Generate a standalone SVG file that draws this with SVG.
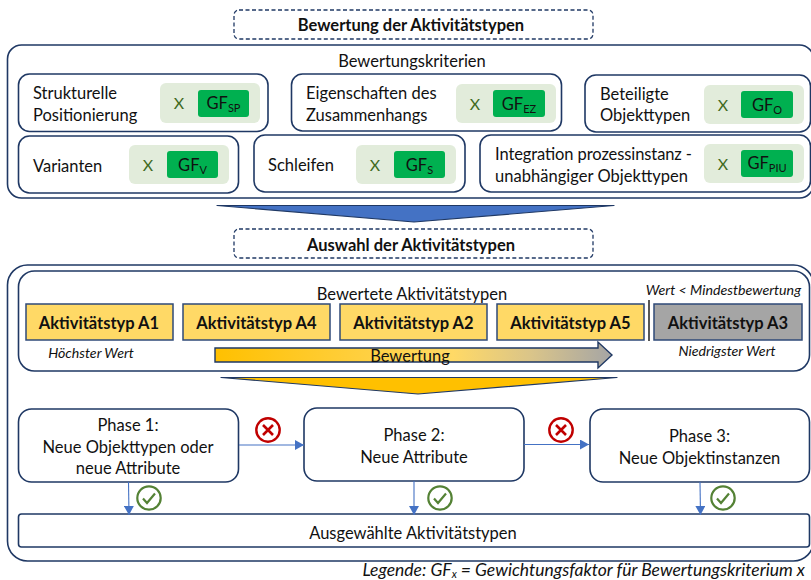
<svg xmlns="http://www.w3.org/2000/svg" width="811" height="580" viewBox="0 0 811 580">
<defs>
<linearGradient id="gr" x1="0" y1="0" x2="1" y2="0"><stop offset="0" stop-color="#ffc000"/><stop offset="0.6" stop-color="#ffd966"/><stop offset="0.8" stop-color="#d9c48a"/><stop offset="1" stop-color="#a5a5a5"/></linearGradient>
<marker id="ah" markerUnits="userSpaceOnUse" markerWidth="10" markerHeight="10" refX="9" refY="5" orient="auto"><path d="M0 0L9 5L0 10Z" fill="#4472c4"/></marker>
<g id="xicon"><circle r="11.7" fill="#fff" stroke="#c00000" stroke-width="2.4"/><path d="M-5-5L5 5M5-5L-5 5" stroke="#c00000" stroke-width="2.6" fill="none"/></g>
<g id="cicon"><circle r="11.7" fill="#fff" stroke="#548235" stroke-width="2.2"/><path d="M-6 0.5L-2 5L6-4.5" stroke="#548235" stroke-width="2.2" fill="none"/></g>
</defs>
<style>
text{font-family:Lato,"Liberation Sans",sans-serif;fill:#111;font-size:16.5px}
.b{font-weight:700}
.m{text-anchor:middle}
.i{font-style:italic;font-size:14.2px}
.box{fill:#fff;stroke:#1f3864;stroke-width:1.6}
.dash{fill:#fff;stroke:#1f3864;stroke-width:1.3;stroke-dasharray:4 2.5}
.soft{fill:#e2ecdb}
.gf{fill:#00b050}
.x{fill:#3f6a22;font-size:16px;text-anchor:middle}
.card{fill:#ffd966;stroke:#2f4a78;stroke-width:1.5}
.sub{font-size:11px}
.conn{stroke:#4472c4;stroke-width:1.1;fill:none;marker-end:url(#ah)}
</style>
<g id="title1"><rect class="dash" x="234" y="10" width="359" height="29" rx="5"/><text class="b m" x="411" y="30.500">Bewertung der Aktivitätstypen</text></g>
<g id="criteria"><rect class="box" x="7.5" y="45" width="806" height="153" rx="14"/><text class="m" x="412" y="66.500">Bewertungskriterien</text></g>
<g id="c1"><rect class="box" x="18.5" y="74" width="249.5" height="57.5" rx="11"/><text x="33" y="98.500">Strukturelle</text><text x="33" y="120.500">Positionierung</text><rect class="soft" x="160" y="83" width="100" height="40" rx="6"/><text class="x" x="179" y="109">X</text><rect class="gf" x="198" y="90" width="51" height="27" rx="3"/><text class="m" x="223.500" y="109">GF<tspan class="sub" dy="3">SP</tspan></text></g>
<g id="c2"><rect class="box" x="291.500" y="74" width="270" height="57" rx="11"/><text x="306" y="98.500">Eigenschaften des</text><text x="306" y="120.500">Zusammenhangs</text><rect class="soft" x="456" y="84" width="100" height="39" rx="6"/><text class="x" x="475" y="110">X</text><rect class="gf" x="493" y="90" width="52" height="27" rx="3"/><text class="m" x="519" y="110">GF<tspan class="sub" dy="3">EZ</tspan></text></g>
<g id="c3"><rect class="box" x="585" y="75" width="225.500" height="57" rx="11"/><text x="600" y="99.500">Beteiligte</text><text x="600" y="120.500">Objekttypen</text><rect class="soft" x="704" y="85" width="100" height="39" rx="6"/><text class="x" x="723" y="111">X</text><rect class="gf" x="741" y="91" width="52" height="27" rx="3"/><text class="m" x="767" y="111">GF<tspan class="sub" dy="3">O</tspan></text></g>
<g id="c4"><rect class="box" x="18.500" y="136" width="220" height="57" rx="11"/><text x="33" y="171.500">Varianten</text><rect class="soft" x="129" y="145" width="100" height="39" rx="6"/><text class="x" x="148" y="171">X</text><rect class="gf" x="167" y="151" width="51" height="27" rx="3"/><text class="m" x="192.500" y="171">GF<tspan class="sub" dy="3">V</tspan></text></g>
<g id="c5"><rect class="box" x="254" y="135" width="211" height="57" rx="11"/><text x="268" y="170.500">Schleifen</text><rect class="soft" x="356" y="145" width="100" height="39" rx="6"/><text class="x" x="375" y="171">X</text><rect class="gf" x="394" y="151" width="51" height="27" rx="3"/><text class="m" x="419.500" y="171">GF<tspan class="sub" dy="3">S</tspan></text></g>
<g id="c6"><rect class="box" x="480" y="135" width="330.500" height="57" rx="11"/><text x="495" y="159.500" textLength="197">Integration prozessinstanz -</text><text x="495" y="181.500" textLength="193">unabhängiger Objekttypen</text><rect class="soft" x="704" y="144" width="100" height="39" rx="6"/><text class="x" x="723" y="170">X</text><rect class="gf" x="741" y="150" width="52" height="27" rx="3"/><text class="m" x="767" y="169">GF<tspan class="sub" dy="3">PIU</tspan></text></g>
<g id="arrow-blue"><path d="M217 205.500H614L414 222Z" fill="#4472c4" stroke="#1f3864" stroke-width="1.2" stroke-linejoin="round"/></g>
<g id="title2"><rect class="dash" x="234" y="229" width="359" height="29" rx="5"/><text class="b m" x="411" y="250.500">Auswahl der Aktivitätstypen</text></g>
<g id="selection"><rect class="box" x="7.500" y="265" width="806" height="296" rx="20"/></g>
<g id="rated"><rect class="box" x="18.500" y="271" width="791" height="100" rx="16"/><text class="m" x="412" y="299.500">Bewertete Aktivitätstypen</text>
<text class="i" x="801" y="295" text-anchor="end">Wert &lt; Mindestbewertung</text>
<path d="M649 300V341" stroke="#111" stroke-width="1.4"/>
<text class="i m" x="91" y="358">Höchster Wert</text><text class="i m" x="727" y="356">Niedrigster Wert</text></g>
<g id="a1"><rect class="card" x="26" y="304" width="147" height="36"/><text class="b m" x="99" y="328.500">Aktivitätstyp  A1</text></g>
<g id="a4"><rect class="card" x="183" y="304" width="147" height="36"/><text class="b m" x="256.500" y="328.500">Aktivitätstyp  A4</text></g>
<g id="a2"><rect class="card" x="340" y="304" width="147" height="36"/><text class="b m" x="413.500" y="328.500">Aktivitätstyp  A2</text></g>
<g id="a5"><rect class="card" x="497" y="304" width="147" height="36"/><text class="b m" x="570.500" y="328.500">Aktivitätstyp  A5</text></g>
<g id="a3"><rect class="card" style="fill:#a5a5a5" x="654" y="304" width="148" height="36"/><text class="b m" x="728" y="328.500">Aktivitätstyp  A3</text></g>
<g id="bewertung"><path d="M215 348H598V342L612 355L598 368V362H215Z" fill="url(#gr)" stroke="#1f3864" stroke-width="1.4"/><text class="m" x="410" y="361.500">Bewertung</text></g>
<g id="arrow-yellow"><path d="M221 377.500H617L418 394Z" fill="#ffc000" stroke="#1f3864" stroke-width="1.2" stroke-linejoin="round"/></g>
<g id="p1"><rect class="box" x="18.500" y="409" width="220" height="73" rx="13"/><text class="m" x="128" y="430.500">Phase 1:</text><text class="m" x="128" y="452.500">Neue Objekttypen oder</text><text class="m" x="128" y="473.500">neue Attribute</text></g>
<g id="p2"><rect class="box" x="304" y="408" width="220" height="73" rx="13"/><text class="m" x="414" y="440.500">Phase 2:</text><text class="m" x="414" y="462.500">Neue Attribute</text></g>
<g id="p3"><rect class="box" x="590" y="409" width="219.500" height="73" rx="13"/><text class="m" x="699.500" y="441.500">Phase 3:</text><text class="m" x="699.500" y="463.500">Neue Objektinstanzen</text></g>
<g id="selected"><rect class="box" x="18.500" y="514" width="791" height="33" rx="3"/><text class="m" x="413" y="538.500">Ausgewählte Aktivitätstypen</text></g>
<g id="connectors">
<path class="conn" d="M239 445H304"/><path class="conn" d="M524 444.500H589"/>
<path class="conn" d="M128.500 482L129 515"/><path class="conn" d="M414 481V515"/><path class="conn" d="M700 482L700.500 515"/>
</g>
<g id="icons"><use href="#xicon" x="268" y="430"/><use href="#xicon" x="561" y="430"/><use href="#cicon" x="149" y="498"/><use href="#cicon" x="440" y="498"/><use href="#cicon" x="723" y="498"/></g>
<g id="legend"><text class="i" style="font-size:17.5px" x="805" y="576" text-anchor="end">Legende: GF<tspan class="sub" dy="2">x</tspan><tspan dy="-2"> = Gewichtungsfaktor für Bewertungskriterium x</tspan></text></g>
</svg>
